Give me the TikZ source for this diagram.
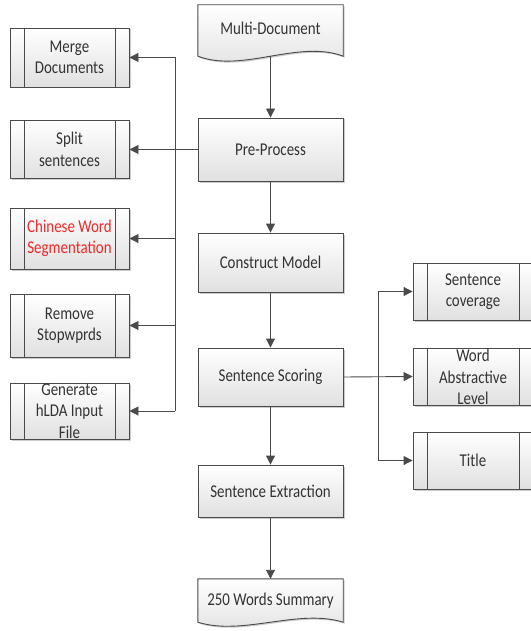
\documentclass[tikz,border=0pt]{standalone}
\usepackage{fontspec}
\setmainfont{Carlito}[FakeStretch=0.83]
\usetikzlibrary{arrows.meta,shadows,backgrounds}
\definecolor{txt}{HTML}{333333}
\definecolor{edge}{HTML}{4A4A4A}
\definecolor{redtxt}{HTML}{F02828}
\begin{document}
\begin{tikzpicture}[x=1pt,y=-1pt,
  every node/.style={font=\fontsize{18}{21.5}\selectfont, text=txt, align=center, inner sep=0pt},
  shade/.style={top color=white, bottom color=black!12,
    drop shadow={shadow xshift=1.5pt,shadow yshift=-1.5pt,fill=black!40,opacity=0.5}},
  box/.style={draw=edge, line width=0.9pt, shade, minimum width=145pt},
  pp/.style={box, path picture={\draw[edge,line width=0.9pt]
      ([xshift=14pt]path picture bounding box.north west) -- ([xshift=14pt]path picture bounding box.south west)
      ([xshift=-14pt]path picture bounding box.north east) -- ([xshift=-14pt]path picture bounding box.south east);}},
  lbox/.style={pp, minimum width=119pt},
  rbox/.style={pp, minimum width=120pt, minimum height=57pt},
  doc/.style={draw=edge, line width=0.9pt, shade},
  arr/.style={draw=edge, line width=0.9pt, -{Triangle[length=9pt,width=9pt]}}
]
\useasboundingbox (0,0) rectangle (530,631);

% main column
\node[minimum width=145pt, minimum height=51pt] (md) at (270.5,30.5) {\raisebox{3.5pt}{Multi-Document}};
\node[box, minimum height=63pt] (pre) at (270.5,149.5) {Pre-Process};
\node[box, minimum height=59pt] (cm) at (270.5,262.5) {Construct Model};
\node[box, minimum height=58pt] (ss) at (270.5,377) {Sentence Scoring};
\node[box, minimum height=52pt] (se) at (270.5,491) {Sentence Extraction};
\node[minimum width=145pt, minimum height=43pt] (sum) at (270.5,600.5) {250 Words Summary};

\begin{scope}[on background layer]
\path[doc] (md.north west) -- (md.north east) -- (md.south east)
  .. controls +(-45,-17) and +(45,17) .. (md.south west) -- cycle;
\path[doc] (sum.north west) -- (sum.north east) -- (sum.south east)
  .. controls +(-45,-14) and +(45,14) .. (sum.south west) -- cycle;
\end{scope}

% left column
\node[lbox, minimum height=59pt] (merge) at (69.5,57.5) {Merge\\Documents};
\node[lbox, minimum height=58pt] (split) at (69.5,149.5) {Split\\sentences};
\node[lbox, minimum height=61pt, text=redtxt] (cws) at (69.5,238.5) {Chinese Word\\Segmentation};
\node[lbox, minimum height=63pt] (rs) at (69.5,325.5) {Remove\\Stopwprds};
\node[lbox, minimum height=56pt] (gen) at (69.5,411) {};
\node (genlbl) at (69.5,411) {Generate\\hLDA Input\\File};

% right column
\node[rbox] (cov) at (473,291.5) {Sentence\\coverage};
\node[rbox] (wal) at (473,376.5) {};
\node (wallbl) at (473,377) {Word\\Abstractive\\Level};
\node[rbox] (title) at (473,460.5) {Title};

% bus coordinates
\coordinate (lb) at (175,0);
\coordinate (rb) at (378,0);

% main flow
\draw[arr] (md.south) -- (pre.north);
\draw[arr] (pre.south) -- (cm.north);
\draw[arr] (cm.south) -- (ss.north);
\draw[arr] (ss.south) -- (se.north);
\draw[arr] (se.south) -- (sum.north);

% left branches
\draw[arr] (pre.west) -- (split.east);
\draw[arr] (gen.east -| lb) -- (merge.east -| lb) -- (merge.east);
\draw[arr] (gen.east -| lb) -- (gen.east);
\draw[arr] (cws.east -| lb) -- (cws.east);
\draw[arr] (rs.east -| lb) -- (rs.east);

% right branches
\draw[arr] (ss.east) -- (wal.west);
\draw[arr] (title.west -| rb) -- (cov.west -| rb) -- (cov.west);
\draw[arr] (title.west -| rb) -- (title.west);
\end{tikzpicture}
\end{document}
